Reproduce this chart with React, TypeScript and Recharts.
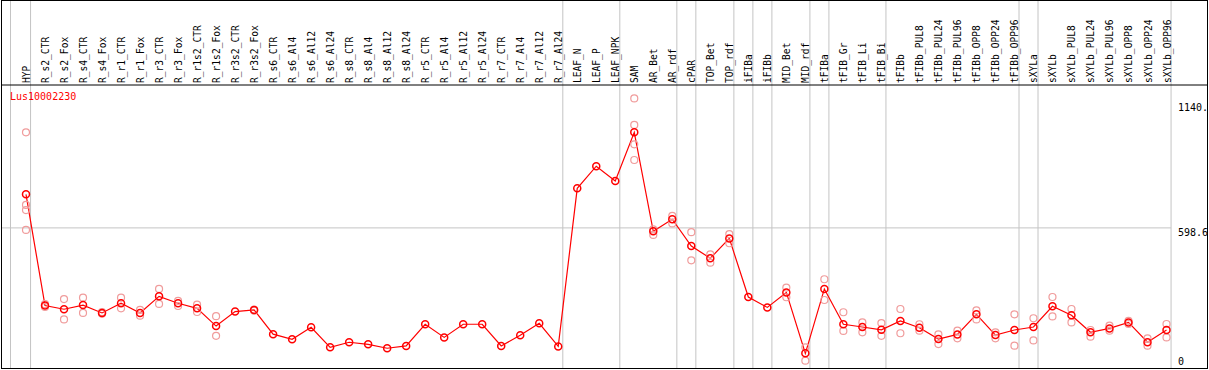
import React from "react";
import {
  ComposedChart,
  Line,
  Scatter,
  XAxis,
  YAxis,
  ReferenceLine
} from "recharts";

const categories = [
  "HYP", "R_s2_CTR", "R_s2_Fox", "R_s4_CTR", "R_s4_Fox", "R_r1_CTR", "R_r1_Fox",
  "R_r3_CTR", "R_r3_Fox", "R_r1s2_CTR", "R_r1s2_Fox", "R_r3s2_CTR", "R_r3s2_Fox",
  "R_s6_CTR", "R_s6_Al4", "R_s6_Al12", "R_s6_Al24", "R_s8_CTR", "R_s8_Al4",
  "R_s8_Al12", "R_s8_Al24", "R_r5_CTR", "R_r5_Al4", "R_r5_Al12", "R_r5_Al24",
  "R_r7_CTR", "R_r7_Al4", "R_r7_Al12", "R_r7_Al24", "LEAF_N", "LEAF_P", "LEAF_NPK",
  "SAM", "AR_Bet", "AR_rdf", "cPAR", "TOP_Bet", "TOP_rdf", "iFIBa", "iFIBb",
  "MID_Bet", "MID_rdf", "tFIBa", "tFIB_Gr", "tFIB_Li", "tFIB_Bi", "tFIBb",
  "tFIBb_PUL8", "tFIBb_PUL24", "tFIBb_PUL96", "tFIBb_OPP8", "tFIBb_OPP24",
  "tFIBb_OPP96", "sXYLa", "sXYLb", "sXYLb_PUL8", "sXYLb_PUL24", "sXYLb_PUL96",
  "sXYLb_OPP8", "sXYLb_OPP24", "sXYLb_OPP96"
];

// mean expression per sample
const means = [
  744, 262, 246, 264, 230, 272, 230, 302, 272, 250, 173, 236, 243,
  138, 116, 168, 81, 103, 94, 77, 87, 181, 124, 181, 181,
  87, 133, 185, 85, 770, 866, 802,
  1013, 584, 636, 520, 467, 553, 299, 254,
  319, 55, 334, 181, 169, 157, 195,
  166, 117, 137, 224, 134, 156,
  169, 259, 220, 146, 163, 189, 103, 156
];

// individual replicates (faded circles)
const replicates: number[][] = [
  [1013, 698, 676, 590], [268, 256], [290, 202], [296, 230], [234, 227],
  [296, 250], [243, 218], [334, 269], [282, 260], [266, 234], [216, 131],
  [], [245, 240], [], [], [], [], [], [], [], [], [], [], [], [],
  [], [], [], [], [], [], [],
  [1160, 1045, 961, 893], [592, 568], [651, 618], [580, 458], [484, 448],
  [572, 532], [], [], [340, 298], [81, 23], [376, 286], [233, 152],
  [189, 146], [186, 131], [247, 142], [181, 153], [137, 95], [153, 120],
  [241, 202], [146, 120], [224, 88], [207, 111], [299, 215], [247, 189],
  [156, 127], [175, 153], [196, 182], [120, 88], [182, 124]
];

// group separators, drawn after these sample indexes
const separators = [0, 28, 31, 34, 35, 37, 38, 39, 41, 42, 45, 52, 53, 60];

const yTicks = [0, 598.6, 1140];
const geneName = "Lus10002230";

const X_DOMAIN: [number, number] = [-1.315, 62.13];
const Y_DOMAIN: [number, number] = [-8.67, 1586.5];
const HEADER_VALUE = 1218;
const MONO = "'DejaVu Sans Mono', monospace";
const GRID = "#c4c4c4";

const chartData = categories.map((name, i) => ({ x: i, name, mean: means[i] }));
const repData = replicates.flatMap((reps, i) =>
  reps.map((value) => ({ x: i, value }))
);

const CategoryTick = (props: any) => {
  const { x, payload } = props;
  const label = categories[payload.value];
  if (!label) return null;
  return (
    <text
      x={x + 4}
      y={83}
      transform={`rotate(-90 ${x + 4} 83)`}
      textAnchor="start"
      fontFamily={MONO}
      fontSize={9.6}
      fill="#000"
    >
      {label}
    </text>
  );
};

const ValueTick = (props: any) => {
  const { y, payload } = props;
  const v = payload.value;
  const label = v === 1140 ? "1140." : String(v);
  return (
    <text
      x={1178}
      y={Math.min(y + 8, 365)}
      textAnchor="start"
      fontFamily={MONO}
      fontSize={10}
      fill="#000"
    >
      {label}
    </text>
  );
};

const RepDot = (props: any) => (
  <circle
    cx={props.cx}
    cy={props.cy}
    r={3.5}
    fill="none"
    stroke="#f09c9c"
    strokeWidth={1.2}
  />
);

export default function App() {
  return (
    <div
      style={{
        position: "absolute",
        left: 0,
        top: 0,
        width: 1209,
        height: 370,
        background: "#fff"
      }}
    >
      {/* leading separator before the first sample */}
      <div
        style={{
          position: "absolute",
          left: 10,
          top: 0,
          width: 1,
          height: 368,
          background: GRID
        }}
      />
      <ComposedChart
        width={1209}
        height={370}
        data={chartData}
        margin={{ top: 0, right: 2, bottom: 2, left: 1 }}
        style={{ position: "absolute", left: 0, top: 0 }}
      >
        <XAxis
          dataKey="x"
          type="number"
          orientation="top"
          mirror
          height={30}
          domain={X_DOMAIN}
          allowDataOverflow
          ticks={categories.map((_, i) => i)}
          interval={0}
          axisLine={false}
          tickLine={false}
          tick={<CategoryTick />}
        />
        <YAxis
          type="number"
          orientation="right"
          mirror
          width={30}
          domain={Y_DOMAIN}
          allowDataOverflow
          ticks={yTicks}
          interval={0}
          axisLine={false}
          tickLine={false}
          tick={<ValueTick />}
        />
        {separators.map((s) => (
          <ReferenceLine
            key={`sep-${s}`}
            segment={[
              { x: s + 0.24, y: Y_DOMAIN[0] },
              { x: s + 0.24, y: Y_DOMAIN[1] }
            ]}
            stroke={GRID}
            strokeWidth={1}
            ifOverflow="visible"
          />
        ))}
        <ReferenceLine
          segment={[
            { x: X_DOMAIN[0], y: 598.6 },
            { x: 60.24, y: 598.6 }
          ]}
          stroke={GRID}
          strokeWidth={1}
        />
        <ReferenceLine y={HEADER_VALUE} stroke="#000" strokeWidth={1} />
        <Scatter
          data={repData}
          dataKey="value"
          shape={<RepDot />}
          isAnimationActive={false}
        />
        <Line
          type="linear"
          dataKey="mean"
          stroke="#ff0000"
          strokeWidth={1.2}
          dot={{ r: 3.5, stroke: "#ff0000", strokeWidth: 1.5, fill: "none" }}
          activeDot={false}
          isAnimationActive={false}
        />
      </ComposedChart>
      <div
        style={{
          position: "absolute",
          left: 1,
          top: 0,
          width: 1207,
          height: 369,
          boxSizing: "border-box",
          border: "1px solid #000",
          pointerEvents: "none"
        }}
      />
      <div
        style={{
          position: "absolute",
          left: 10,
          top: 92,
          fontFamily: MONO,
          fontSize: 10,
          lineHeight: "10px",
          color: "#ff0000"
        }}
      >
        {geneName}
      </div>
    </div>
  );
}
